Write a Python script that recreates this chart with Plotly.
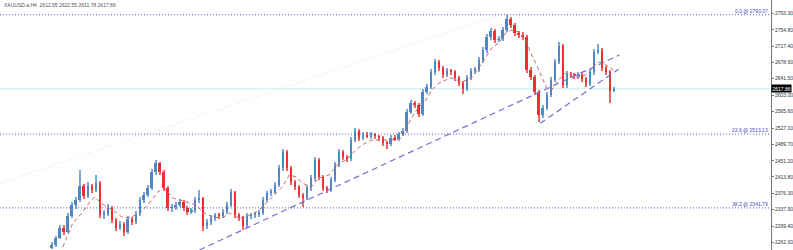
import plotly.graph_objects as go

# ---- candle data (H4 XAUUSD) ----
opens = [2249.0, 2255.8, 2272.0, 2295.2, 2286.0, 2323.1, 2348.6, 2360.2, 2392.7, 2369.5,
         2392.7, 2383.4, 2399.6, 2325.4, 2327.7, 2341.6, 2313.8, 2295.2, 2304.5, 2286.0,
         2316.1, 2309.2, 2327.7, 2360.2, 2371.8, 2388.0, 2425.2, 2446.0, 2425.2, 2388.0,
         2341.6, 2343.5, 2348.6, 2355.6, 2341.6, 2332.4, 2334.7, 2360.2, 2364.8, 2299.9,
         2309.2, 2318.4, 2325.4, 2323.1, 2332.4, 2348.6, 2378.8, 2325.4, 2318.4, 2299.9,
         2323.1, 2325.4, 2327.7, 2330.0, 2360.2, 2376.4, 2378.8, 2395.0, 2434.4, 2471.6,
         2434.4, 2402.0, 2390.4, 2371.8, 2364.8, 2388.0, 2411.2, 2453.0, 2413.6, 2388.0,
         2383.4, 2406.6, 2441.4, 2471.6, 2460.0, 2455.3, 2499.4, 2520.3, 2504.0, 2511.0,
         2508.0, 2511.0, 2508.7, 2504.0, 2492.4, 2490.1, 2504.0, 2501.0, 2513.3, 2520.3,
         2564.4, 2585.2, 2580.6, 2559.7, 2610.8, 2622.4, 2657.2, 2680.4, 2666.4, 2650.2,
         2659.5, 2657.2, 2643.2, 2631.6, 2617.7, 2643.2, 2659.5, 2661.8, 2685.0, 2708.2,
         2738.4, 2752.3, 2731.4, 2733.7, 2754.6, 2781.0, 2766.2, 2747.6, 2743.0, 2738.4,
         2661.8, 2645.6, 2610.8, 2557.4, 2573.6, 2603.8, 2638.6, 2680.4, 2717.5, 2627.0,
         2652.5, 2650.2, 2647.9, 2650.2, 2640.9, 2629.3, 2657.2, 2703.6, 2708.2, 2666.4,
         2657.2, 2612.95]
highs = [2262.0, 2276.5, 2301.0, 2303.0, 2329.0, 2356.0, 2367.0, 2429.8, 2398.0, 2401.0,
         2397.0, 2418.2, 2404.0, 2336.0, 2350.0, 2346.0, 2318.0, 2312.0, 2309.0, 2323.0,
         2321.0, 2334.0, 2366.0, 2378.0, 2395.0, 2432.0, 2452.0, 2449.0, 2430.0, 2392.0,
         2352.0, 2356.0, 2362.0, 2359.0, 2346.0, 2341.0, 2367.0, 2383.4, 2368.0, 2315.0,
         2325.0, 2331.0, 2330.0, 2339.0, 2355.0, 2386.0, 2382.0, 2330.0, 2322.0, 2329.0,
         2331.0, 2333.0, 2336.0, 2366.0, 2382.0, 2385.0, 2401.0, 2441.0, 2478.0, 2475.0,
         2439.0, 2407.0, 2395.0, 2377.0, 2394.0, 2418.0, 2460.0, 2457.0, 2418.0, 2393.0,
         2413.0, 2448.0, 2478.0, 2476.0, 2465.0, 2506.0, 2527.0, 2524.0, 2518.0, 2517.0,
         2518.0, 2515.0, 2512.0, 2508.0, 2497.0, 2510.0, 2512.0, 2519.0, 2527.0, 2571.0,
         2592.0, 2590.0, 2585.0, 2617.0, 2629.0, 2664.0, 2688.0, 2685.0, 2671.0, 2666.0,
         2664.0, 2662.0, 2648.0, 2636.0, 2650.0, 2666.0, 2668.0, 2692.0, 2715.0, 2745.0,
         2759.0, 2756.0, 2740.0, 2761.0, 2790.07, 2785.0, 2771.0, 2752.0, 2749.0, 2742.0,
         2668.0, 2650.0, 2615.0, 2580.0, 2610.0, 2645.0, 2687.0, 2727.0, 2721.0, 2659.0,
         2658.0, 2655.0, 2657.0, 2655.0, 2645.0, 2664.0, 2710.0, 2722.0, 2712.0, 2670.0,
         2661.0, 2622.55]
lows = [2246.0, 2252.0, 2268.5, 2280.0, 2283.0, 2318.0, 2340.0, 2355.0, 2362.0, 2365.0,
        2376.0, 2378.0, 2318.0, 2316.0, 2322.0, 2306.0, 2288.0, 2290.0, 2276.0, 2282.0,
        2302.0, 2305.0, 2322.0, 2354.0, 2366.0, 2383.0, 2419.0, 2418.0, 2381.0, 2334.0,
        2333.0, 2337.0, 2343.0, 2335.0, 2326.0, 2327.0, 2330.0, 2354.0, 2288.0, 2294.0,
        2303.0, 2312.0, 2316.0, 2318.0, 2327.0, 2343.0, 2318.0, 2311.0, 2291.0, 2295.0,
        2317.0, 2319.0, 2321.0, 2325.0, 2355.0, 2370.0, 2373.0, 2390.0, 2428.0, 2427.0,
        2395.0, 2384.0, 2365.0, 2345.0, 2359.0, 2382.0, 2405.0, 2406.0, 2380.0, 2376.0,
        2378.0, 2401.0, 2436.0, 2453.0, 2448.0, 2450.0, 2494.0, 2497.0, 2499.0, 2503.0,
        2502.0, 2502.0, 2497.0, 2486.0, 2478.0, 2485.0, 2497.0, 2496.0, 2508.0, 2515.0,
        2559.0, 2574.0, 2553.0, 2554.0, 2605.0, 2617.0, 2651.0, 2660.0, 2644.0, 2645.0,
        2651.0, 2637.0, 2625.0, 2606.0, 2612.0, 2638.0, 2653.0, 2656.0, 2679.0, 2702.0,
        2732.0, 2725.0, 2726.0, 2728.0, 2749.0, 2760.0, 2741.0, 2736.0, 2731.0, 2655.0,
        2639.0, 2604.0, 2541.0, 2551.0, 2568.0, 2598.0, 2633.0, 2675.0, 2620.0, 2621.0,
        2644.0, 2641.0, 2642.0, 2635.0, 2622.0, 2624.0, 2651.0, 2698.0, 2660.0, 2651.0,
        2585.2, 2611.78]
closes = [2255.8, 2272.0, 2295.2, 2286.0, 2323.1, 2348.6, 2360.2, 2392.7, 2369.5, 2392.7,
          2383.4, 2399.6, 2325.4, 2327.7, 2341.6, 2313.8, 2295.2, 2304.5, 2286.0, 2316.1,
          2309.2, 2327.7, 2360.2, 2371.8, 2388.0, 2425.2, 2446.0, 2425.2, 2388.0, 2341.6,
          2343.5, 2348.6, 2355.6, 2341.6, 2332.4, 2334.7, 2360.2, 2364.8, 2299.9, 2309.2,
          2318.4, 2325.4, 2323.1, 2332.4, 2348.6, 2378.8, 2325.4, 2318.4, 2299.9, 2323.1,
          2325.4, 2327.7, 2330.0, 2360.2, 2376.4, 2378.8, 2395.0, 2434.4, 2471.6, 2434.4,
          2402.0, 2390.4, 2371.8, 2364.8, 2388.0, 2411.2, 2453.0, 2413.6, 2388.0, 2383.4,
          2406.6, 2441.4, 2471.6, 2460.0, 2455.3, 2499.4, 2520.3, 2504.0, 2511.0, 2508.0,
          2511.0, 2508.7, 2504.0, 2492.4, 2490.1, 2504.0, 2501.0, 2513.3, 2520.3, 2564.4,
          2585.2, 2580.6, 2559.7, 2610.8, 2622.4, 2657.2, 2680.4, 2666.4, 2650.2, 2659.5,
          2657.2, 2643.2, 2631.6, 2617.7, 2643.2, 2659.5, 2661.8, 2685.0, 2708.2, 2738.4,
          2752.3, 2731.4, 2733.7, 2754.6, 2781.0, 2766.2, 2747.6, 2743.0, 2738.4, 2661.8,
          2645.6, 2610.8, 2557.4, 2573.6, 2603.8, 2638.6, 2680.4, 2717.5, 2627.0, 2652.5,
          2650.2, 2647.9, 2650.2, 2640.9, 2629.3, 2657.2, 2703.6, 2708.2, 2666.4, 2657.2,
          2612.0, 2617.86]

# ---- moving average (dashed) ----
ma_x = [2.75, 5.25, 7.75, 9.5, 10.75, 12, 13.75, 15.25, 17.5, 19.5, 22, 24.5, 26.5, 28.25,
        30.25, 32, 34.5, 36.25, 37.75, 40.25, 42.75, 44.5, 46.25, 47.75, 49.5, 51.25, 52.75,
        54.5, 56.25, 57.75, 59.5, 61.25, 62.75, 65, 67, 69.5, 72, 73.75, 76.25, 77.75, 80.25,
        82.75, 85.25, 87.75, 88.75, 90.25, 92, 93.75, 95.25, 97, 98.75, 100.25, 101.5, 102.75,
        104, 105.25, 107, 108.75, 110.25, 112, 113.75, 115.25, 117, 118.75, 120.25, 121.5,
        122.75, 124, 125.25, 127, 128.75, 130.25, 132, 133.75, 135.25, 136.5, 137.75, 139, 140.75]
ma_y = [2251.2, 2306.8, 2332.4, 2355.6, 2367.2, 2355.6, 2344.0, 2337.0, 2320.8, 2318.4, 2330.0,
        2353.2, 2378.8, 2388.0, 2364.8, 2360.2, 2353.2, 2348.6, 2332.4, 2320.8, 2318.4, 2330.0,
        2320.8, 2318.4, 2325.4, 2332.4, 2344.0, 2360.2, 2376.4, 2390.4, 2418.2, 2413.6, 2399.6,
        2390.4, 2411.2, 2418.2, 2446.0, 2453.0, 2476.2, 2487.8, 2499.4, 2499.4, 2499.4, 2504.0,
        2522.6, 2552.8, 2576.0, 2592.2, 2615.4, 2631.6, 2638.6, 2643.2, 2638.6, 2634.0, 2638.6,
        2645.6, 2666.4, 2692.0, 2712.8, 2724.4, 2747.6, 2754.6, 2750.0, 2731.4, 2696.6, 2673.4,
        2645.6, 2620.0, 2615.4, 2638.6, 2654.8, 2645.6, 2645.6, 2650.2, 2661.8, 2678.0, 2680.4,
        2673.4, 2661.8]

# ---- drawn objects ----
fib_levels = [2790.07, 2513.13, 2341.79]
fib_labels = ["0.0 @ 2790.07", "23.6 @ 2513.13", "38.2 @ 2341.79"]
trend1_x = [37.0, 142.25]
trend1_y = [2244.2, 2696.4]
trend2_x = [122.4, 142.0]
trend2_y = [2538.1, 2663.4]
faint_x = [-13.0, 113.25]
faint_y = [2399.6, 2791.7]
last_price = 2617.86
title_text = "XAUUSD.a,H4  2612.95 2622.55 2611.78 2617.86"
tick_vals = [2793.30, 2754.80, 2717.40, 2678.90, 2641.50, 2603.00, 2565.60, 2527.10,
             2489.70, 2451.20, 2413.80, 2376.30, 2337.90, 2299.40, 2262.00]

UP = "#4f88c8"
DOWN = "#f03030"

idx = list(range(len(closes)))
colors = [UP if c >= o else DOWN for o, c in zip(opens, closes)]
wick_base = lows
wick_len = [h - l for h, l in zip(highs, lows)]
body_base = [min(o, c) for o, c in zip(opens, closes)]
body_len = [max(abs(c - o), 0.8) for o, c in zip(opens, closes)]

fig = go.Figure()
fig.add_trace(go.Scatter(x=faint_x, y=faint_y, mode="lines",
                         line=dict(color="#eadada", width=1, dash="1px,2px"), hoverinfo="skip"))
fig.add_trace(go.Bar(x=idx, y=wick_len, base=wick_base, width=0.26,
                     marker=dict(color=colors, opacity=0.75, line=dict(width=0))))
fig.add_trace(go.Bar(x=idx, y=body_len, base=body_base, width=0.5,
                     marker=dict(color=colors, line=dict(width=0))))
fig.add_trace(go.Scatter(x=ma_x, y=ma_y, mode="lines",
                         line=dict(color="#c86a60", width=1, dash="4px,3px"), hoverinfo="skip"))
for tx, ty in [(trend1_x, trend1_y), (trend2_x, trend2_y)]:
    fig.add_trace(go.Scatter(x=tx, y=ty, mode="lines",
                             line=dict(color="#7070d8", width=1.2, dash="6px,4px"), hoverinfo="skip"))

shapes = []
annotations = []
for lv, lb in zip(fib_levels, fib_labels):
    shapes.append(dict(type="line", xref="paper", x0=0, x1=1, yref="y", y0=lv, y1=lv,
                       line=dict(color="#5a5ad0", width=1, dash="1px,2px")))
    annotations.append(dict(xref="paper", x=0.998, xanchor="right", yref="y", y=lv,
                            yanchor="bottom", text=lb, showarrow=False,
                            font=dict(size=5, color="#4a4ac8", family="Liberation Sans"),
                            borderpad=0))
shapes.append(dict(type="line", xref="paper", x0=0, x1=1, yref="y", y0=last_price, y1=last_price,
                   line=dict(color="#c4eaee", width=1), layer="below"))
annotations.append(dict(xref="paper", x=1.0, xanchor="left", yref="y", y=last_price,
                        yanchor="middle", text=f"{last_price:.2f}", showarrow=False,
                        bgcolor="black", font=dict(size=5, color="white", family="Liberation Sans"),
                        borderpad=0.5))
annotations.append(dict(xref="paper", x=0.002, xanchor="left", yref="paper", y=1.0,
                        yanchor="top", text=title_text, showarrow=False,
                        font=dict(size=5, color="#555555", family="Liberation Sans")))

fig.update_layout(
    width=793, height=250, margin=dict(l=0, r=20, t=0, b=0),
    paper_bgcolor="white", plot_bgcolor="white", showlegend=False,
    barmode="overlay", bargap=0,
    shapes=shapes, annotations=annotations,
    xaxis=dict(range=[-13, 180.25], visible=False),
    yaxis=dict(range=[2244.1, 2824.2], side="right", showgrid=False, zeroline=False,
               showline=True, linecolor="#777777", linewidth=1,
               ticks="outside", ticklen=2, tickcolor="#777777",
               tickvals=tick_vals, ticktext=[f"{v:.2f}" for v in tick_vals],
               tickfont=dict(size=5, color="#333333", family="Liberation Sans")),
)
fig.write_html("out.html")
